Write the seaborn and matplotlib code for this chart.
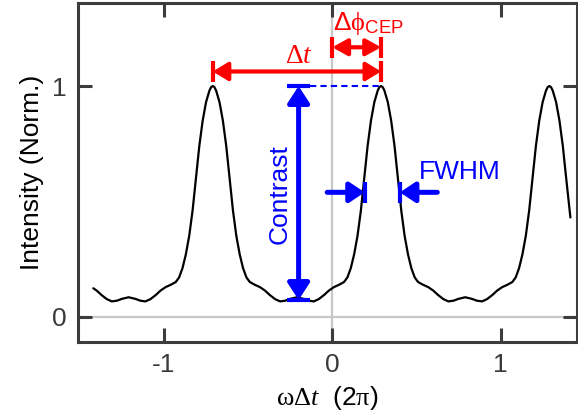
import matplotlib
matplotlib.use("Agg")
import matplotlib.pyplot as plt
import seaborn as sns
import pandas as pd

# Normalized interference intensity vs. phase delay (units of 2π)
x_pos = [-1.42, -1.40, -1.37, -1.34, -1.31, -1.28, -1.25, -1.21, -1.17, -1.14,
         -1.11, -1.08, -1.05, -1.02, -0.99, -0.96, -0.93, -0.91, -0.89, -0.87,
         -0.85, -0.83, -0.81, -0.79, -0.77, -0.75, -0.73, -0.72, -0.71, -0.70,
         -0.69, -0.67, -0.65, -0.63, -0.61, -0.59, -0.57, -0.55, -0.53, -0.51,
         -0.49, -0.46, -0.43, -0.40, -0.37, -0.34, -0.31, -0.28, -0.25, -0.21,
         -0.17, -0.14, -0.11, -0.08, -0.05, -0.02, 0.01, 0.04, 0.07, 0.09,
         0.11, 0.13, 0.15, 0.17, 0.19, 0.21, 0.23, 0.25, 0.27, 0.28,
         0.29, 0.30, 0.31, 0.33, 0.35, 0.37, 0.39, 0.41, 0.43, 0.45,
         0.47, 0.49, 0.51, 0.54, 0.57, 0.60, 0.63, 0.66, 0.69, 0.72,
         0.75, 0.79, 0.83, 0.86, 0.89, 0.92, 0.95, 0.98, 1.01, 1.04,
         1.07, 1.09, 1.11, 1.13, 1.15, 1.17, 1.19, 1.21, 1.23, 1.25,
         1.27, 1.28, 1.29, 1.30, 1.31, 1.33, 1.35, 1.37, 1.39, 1.415]
intensity = [0.123, 0.113, 0.093, 0.076, 0.066, 0.069, 0.077, 0.084, 0.077, 0.069,
             0.066, 0.076, 0.093, 0.113, 0.128, 0.138, 0.150, 0.170, 0.210, 0.270,
             0.350, 0.460, 0.600, 0.740, 0.850, 0.930, 0.980, 0.995, 1.000, 0.995,
             0.980, 0.930, 0.850, 0.740, 0.600, 0.460, 0.350, 0.270, 0.210, 0.170,
             0.150, 0.138, 0.128, 0.113, 0.093, 0.076, 0.066, 0.069, 0.077, 0.084,
             0.077, 0.069, 0.066, 0.076, 0.093, 0.113, 0.128, 0.138, 0.150, 0.170,
             0.210, 0.270, 0.350, 0.460, 0.600, 0.740, 0.850, 0.930, 0.980, 0.995,
             1.000, 0.995, 0.980, 0.930, 0.850, 0.740, 0.600, 0.460, 0.350, 0.270,
             0.210, 0.170, 0.150, 0.138, 0.128, 0.113, 0.093, 0.076, 0.066, 0.069,
             0.077, 0.084, 0.077, 0.069, 0.066, 0.076, 0.093, 0.113, 0.128, 0.138,
             0.150, 0.170, 0.210, 0.270, 0.350, 0.460, 0.600, 0.740, 0.850, 0.930,
             0.980, 0.995, 1.000, 0.995, 0.980, 0.930, 0.850, 0.740, 0.600, 0.430]

x_ticks = [-1, 0, 1]
y_ticks = [0, 1]

# Annotation anchors (data units)
peak_a = -0.71
peak_b = 0.29
contrast_x = -0.20
contrast_low = 0.072
fwhm_left = 0.193
fwhm_right = 0.402
fwhm_y = 0.539

sns.set_theme(style="ticks")
plt.rcParams["font.family"] = ["Liberation Sans", "DejaVu Sans"]
plt.rcParams["mathtext.fontset"] = "custom"
plt.rcParams["mathtext.rm"] = "Liberation Serif"
plt.rcParams["mathtext.it"] = "Liberation Serif:italic"
plt.rcParams["mathtext.sf"] = "Liberation Sans"

RED = "#ff0000"
BLUE = "#0000ff"
FRAME = "#3c3c3c"

fig = plt.figure(figsize=(5.78, 4.17), dpi=100)
ax = fig.add_axes([0.1349, 0.1799, 0.8633, 0.8129])

ax.axvline(0, color="#c8c8c8", lw=1.6, zorder=0)
ax.axhline(0, color="#c8c8c8", lw=1.6, zorder=0)

df = pd.DataFrame({"phase": x_pos, "intensity": intensity})
sns.lineplot(data=df, x="phase", y="intensity", color="black", lw=1.6,
             ax=ax, zorder=3, sort=False)

ax.set_xlim(-1.511, 1.454)
ax.set_ylim(-0.110, 1.360)
ax.set_xticks(x_ticks)
ax.set_yticks(y_ticks)
ax.set_xticklabels(["-1", "0", "1"])
ax.set_yticklabels(["0", "1"])
for s in ax.spines.values():
    s.set_visible(True)
    s.set_color(FRAME)
    s.set_linewidth(2.2)
ax.tick_params(direction="in", length=10, width=2.2, color=FRAME,
               top=True, right=True, labelsize=19, labelcolor="#3a3a3a", pad=8)

ax.set_xlabel(r"$\mathrm{\omega\Delta}\mathit{t}$  (2$\mathrm{\pi}$)", fontsize=19,
              color="black", labelpad=5)
ax.set_ylabel("Intensity (Norm.)", fontsize=19, color="black", labelpad=6)


def head(style, hl, hw):
    return f"{style},head_length={hl},head_width={hw}"


def hbar(x, y, half, color, lw=3.0):
    ax.plot([x, x], [y - half, y + half], color=color, lw=lw,
            solid_capstyle="butt", zorder=4)


def vbar(x, y, half, color, lw=3.0):
    ax.plot([x - half, x + half], [y, y], color=color, lw=lw,
            solid_capstyle="butt", zorder=4)


# Δt : peak-to-peak spacing
y_dt = 1.063
ax.annotate("", xy=(peak_a, y_dt), xytext=(peak_b, y_dt),
            arrowprops=dict(arrowstyle=head("<|-|>", 9, 5.5), color=RED, lw=3,
                            shrinkA=0, shrinkB=0, mutation_scale=1), zorder=4)
hbar(peak_a, y_dt, 0.045, RED)
hbar(peak_b, y_dt, 0.045, RED)
ax.text(-0.198, 1.13, r"$\mathrm{\Delta}\mathit{t}$", color=RED, fontsize=20,
        ha="center", va="center")

# ΔφCEP : offset of the peak from zero delay
y_cep = 1.168
ax.annotate("", xy=(0.0, y_cep), xytext=(peak_b, y_cep),
            arrowprops=dict(arrowstyle=head("<|-|>", 9, 5), color=RED, lw=3,
                            shrinkA=0, shrinkB=0, mutation_scale=1), zorder=4)
hbar(0.0, y_cep, 0.045, RED)
hbar(peak_b, y_cep, 0.045, RED)
ax.text(0.215, 1.272, r"$\mathsf{\Delta}\mathrm{\phi}_{\mathsf{CEP}}$", color=RED,
        fontsize=19, ha="center", va="center")

# Contrast : peak maximum vs. valley minimum
ax.annotate("", xy=(contrast_x, 1.0), xytext=(contrast_x, contrast_low),
            arrowprops=dict(arrowstyle=head("<|-|>", 10, 6.5), color=BLUE, lw=3.6,
                            shrinkA=0, shrinkB=0, mutation_scale=1), zorder=4)
vbar(contrast_x, 1.0, 0.068, BLUE)
vbar(contrast_x, contrast_low, 0.068, BLUE)
ax.plot([contrast_x + 0.068, peak_b], [1.0, 1.0], color=BLUE, lw=1.5,
        ls=(0, (3, 2)), zorder=2)
ax.text(-0.31, 0.53, "Contrast", color=BLUE, fontsize=19, rotation=90,
        ha="center", va="center")

# FWHM : full width at half maximum of the central peak
ax.annotate("", xy=(fwhm_left, fwhm_y), xytext=(-0.03, fwhm_y),
            arrowprops=dict(arrowstyle=head("-|>", 9, 6), color=BLUE, lw=3.6,
                            shrinkA=0, shrinkB=0, mutation_scale=1), zorder=4)
ax.annotate("", xy=(fwhm_right, fwhm_y), xytext=(0.624, fwhm_y),
            arrowprops=dict(arrowstyle=head("-|>", 9, 6), color=BLUE, lw=3.6,
                            shrinkA=0, shrinkB=0, mutation_scale=1), zorder=4)
hbar(fwhm_left, fwhm_y, 0.045, BLUE)
hbar(fwhm_right, fwhm_y, 0.045, BLUE)
ax.text(0.757, 0.628, "FWHM", color=BLUE, fontsize=19, ha="center", va="center")

fig.savefig("out.png", dpi=100)
